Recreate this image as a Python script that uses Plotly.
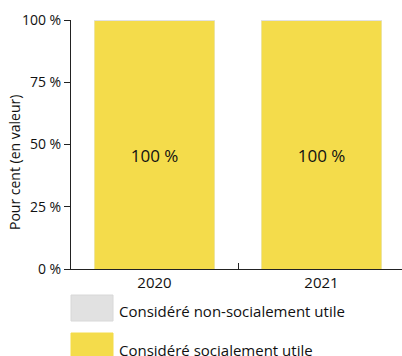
import plotly.graph_objects as go

years = ["2020", "2021"]
social = [100, 100]
non_social = [0, 0]
bar_labels = ["100 %", "100 %"]
y_ticks = [0, 25, 50, 75, 100]
y_ticktext = ["0 %", "25 %", "50 %", "75 %", "100 %"]
legend_names = ["Considéré non-socialement utile", "Considéré socialement utile"]
y_title = "Pour cent (en valeur)"

YELLOW = "#f4dc4b"
GREY = "#e1e1e1"
FONT = "Open Sans"

W, H = 402, 356
ML, MT, MB = 71, 20, 87
PW, PH = W - ML, H - MT - MB

fig = go.Figure()
fig.add_trace(go.Bar(x=years, y=social, name=legend_names[1], marker_color=YELLOW,
                     text=["&nbsp;<br>" + t for t in bar_labels], textposition="inside",
                     insidetextanchor="middle",
                     textfont=dict(size=17, color="#111111", family=FONT), width=0.72))
fig.add_trace(go.Bar(x=years, y=non_social, name=legend_names[0], marker_color=GREY,
                     marker_line=dict(color=GREY, width=1), width=0.72))

def px2x(px):
    return (px - ML) / PW

def py2y(py):
    return (MT + PH - py) / PH

shapes = []
annotations = []
items = [(legend_names[0], GREY, 295, 321, 311), (legend_names[1], YELLOW, 333, 360, 350)]
for name, col, y0, y1, ty in items:
    shapes.append(dict(type="rect", xref="paper", yref="paper",
                       x0=px2x(71), x1=px2x(113), y0=py2y(y1), y1=py2y(y0),
                       fillcolor=col, line=dict(color="#d8d8d8" if col == GREY else col, width=1)))
    annotations.append(dict(text=name, xref="paper", yref="paper", x=px2x(117), y=py2y(ty),
                            xanchor="left", yanchor="middle", showarrow=False,
                            font=dict(size=15, color="#111111", family=FONT)))

annotations.append(dict(text=y_title, xref="paper", yref="paper", x=px2x(14), y=py2y(163),
                        xanchor="center", yanchor="middle", textangle=-90, showarrow=False,
                        font=dict(size=14, color="#111111", family=FONT)))

fig.update_layout(
    width=W, height=H, barmode="stack", showlegend=False,
    margin=dict(l=ML, r=0, t=MT, b=MB, autoexpand=False),
    plot_bgcolor="white", paper_bgcolor="white",
    font=dict(family=FONT, size=14, color="#111111"),
    shapes=shapes, annotations=annotations,
    xaxis=dict(range=[-0.5, -0.5 + PW / 167], showline=True, linecolor="#222222", linewidth=1,
               ticks="inside", tickson="boundaries", ticklen=6, tickcolor="#222222",
               tickfont=dict(size=15), showgrid=False),
    yaxis=dict(range=[0, 100], showline=True, linecolor="#222222", linewidth=1,
               ticks="outside", ticklen=6, tickcolor="#222222",
               tickvals=y_ticks, ticktext=y_ticktext, tickfont=dict(size=14),
               showgrid=False, zeroline=False),
)

fig.write_html("out.html")
